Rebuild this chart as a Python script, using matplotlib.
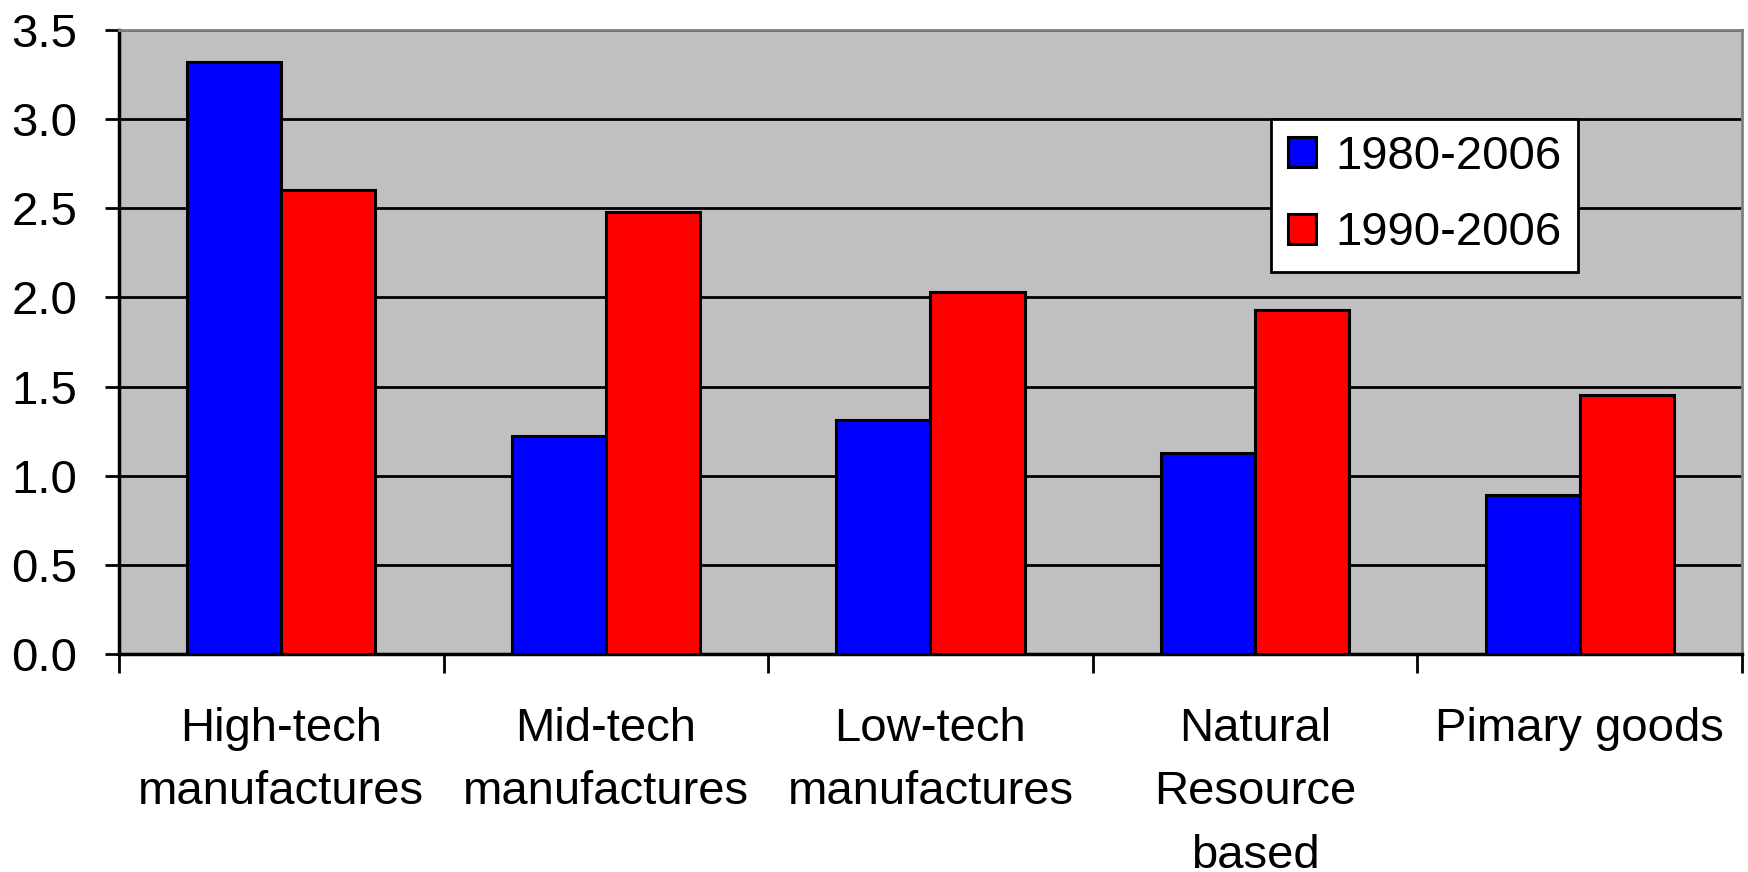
import numpy as np
import matplotlib.pyplot as plt

plt.rcParams['font.family'] = ['Liberation Sans', 'DejaVu Sans']

categories = ["High-tech\nmanufactures", "Mid-tech\nmanufactures", "Low-tech\nmanufactures",
              "Natural\nResource\nbased", "Pimary goods"]
series_labels = ["1980-2006", "1990-2006"]
vals_1980 = [3.32, 1.22, 1.31, 1.13, 0.89]
vals_1990 = [2.60, 2.48, 2.03, 1.93, 1.45]
colors = ["#0000FF", "#FF0000"]

x = np.arange(len(categories))
w = 0.29

fig = plt.figure(figsize=(17.49, 8.72), dpi=100)
ax = fig.add_axes([0.068, 0.25, 0.928, 0.7156])
ax.set_facecolor("#C0C0C0")

ax.bar(x - w / 2, vals_1980, w, color=colors[0], edgecolor="black", linewidth=2.2, label=series_labels[0], zorder=3)
ax.bar(x + w / 2, vals_1990, w, color=colors[1], edgecolor="black", linewidth=2.2, label=series_labels[1], zorder=3)

ax.set_xlim(-0.5, len(categories) - 0.5)
ax.set_ylim(0, 3.5)
ax.set_yticks(np.arange(0, 3.51, 0.5))
ax.set_yticklabels([f"{v:.1f}" for v in np.arange(0, 3.51, 0.5)])
ax.yaxis.grid(True, color="black", linewidth=2)
ax.set_axisbelow(True)

# labels at centers, tick marks at category boundaries
ax.set_xticks(x)
ax.set_xticklabels(categories, linespacing=1.58, va="top")
ax.set_xticks(np.arange(-0.5, len(categories)), minor=True)
ax.tick_params(axis="x", which="major", length=0, pad=38, labelsize=34)
ax.tick_params(axis="x", which="minor", length=14, width=2, direction="out", pad=0)
ax.tick_params(axis="y", length=10, width=2, labelsize=34, pad=20)

for s in ["left", "bottom"]:
    ax.spines[s].set_color("black")
    ax.spines[s].set_linewidth(2.5)
for s in ["top", "right"]:
    ax.spines[s].set_color("#808080")
    ax.spines[s].set_linewidth(2)

leg = ax.legend(loc="upper left", bbox_to_anchor=(0.71, 0.858), fontsize=34,
                frameon=True, fancybox=False, shadow=False, framealpha=1,
                edgecolor="black", handlelength=0.6, handleheight=0.6,
                handletextpad=0.4, labelspacing=0.68, borderpad=0.35, borderaxespad=0)
leg.get_frame().set_linewidth(2)
leg.set_zorder(5)

fig.savefig("out.png", dpi=100, facecolor="white")
